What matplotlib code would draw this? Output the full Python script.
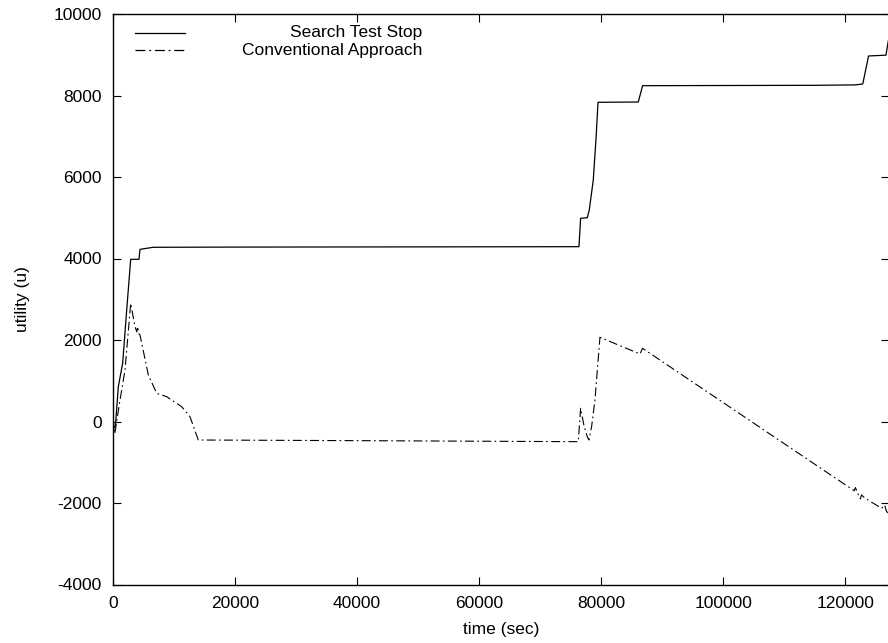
import matplotlib
matplotlib.use("Agg")
import matplotlib.pyplot as plt
from matplotlib.lines import Line2D

plt.rcParams['font.family'] = ['Liberation Sans', 'DejaVu Sans']
plt.rcParams['font.size'] = 12.5
plt.rcParams['axes.unicode_minus'] = False

# Search Test Stop (solid)
sts_t = [0, 400, 870, 1590, 2245, 2900, 4260, 4425, 6600, 20000, 50000,
         76380, 76650, 77740, 78070, 78725, 79200, 79500, 86100, 86810,
         115000, 121600, 122900, 123850, 126700, 127100]
sts_u = [-200, -100, 854, 1435, 2736, 3980, 3980, 4225, 4275, 4280, 4285,
         4290, 4987, 5000, 5190, 5926, 7000, 7833, 7840, 8241,
         8250, 8260, 8282, 8970, 8990, 9350]

# Conventional Approach (dash-dot)
conv_t = [0, 300, 600, 1150, 1970, 2900, 3600, 3900, 4050, 4250, 4425,
          5790, 7160, 8800, 11260, 12620, 13980, 40000, 76270, 76650,
          77200, 77740, 78020, 78450, 79000, 79820, 86380, 86800, 87200,
          121500, 121700, 122000, 122500, 122700, 122980, 124000, 126000,
          126500, 126800, 127100]
conv_u = [100, -300, 0, 528, 1264, 2900, 2327, 2200, 2330, 2150, 2123,
          1141, 692, 609, 363, 118, -454, -470, -495, 324,
          -100, -373, -454, -128, 528, 2066, 1656, 1796, 1756,
          -1700, -1620, -1740, -1900, -1800, -1845, -1950, -2130,
          -2050, -2213, -2243]

fig = plt.figure(figsize=(8.88, 6.43), dpi=100)
ax = fig.add_axes([113 / 888, 58.5 / 643, 776 / 888, 570.5 / 643])

ax.plot(sts_t, sts_u, color='black', lw=0.9, ls='-')
ax.plot(conv_t, conv_u, color='black', lw=0.8, ls=(0, (8, 3, 1.5, 3)))

ax.set_xlim(0, 127200)
ax.set_ylim(-4000, 10000)
ax.set_xticks(range(0, 127000, 20000))
ax.set_yticks(range(-4000, 10001, 2000))
ax.tick_params(direction='in', top=True, right=True, length=6, width=0.8, pad=8)
ax.spines['right'].set_visible(False)
for s in ('left', 'bottom', 'top'):
    ax.spines[s].set_linewidth(1.0)

ax.set_xlabel('time (sec)', labelpad=8)
ax.set_ylabel('utility (u)', labelpad=17)

# gnuplot-style key: line sample on the left, text right-aligned
key = [('Search Test Stop', '-'), ('Conventional Approach', (0, (8, 3, 1.5, 3)))]
for i, (lab, ls) in enumerate(key):
    yk = 1 - (19 + 17 * i) / 570.5
    ax.add_line(Line2D([22 / 776, 72 / 776], [yk, yk], transform=ax.transAxes,
                       color='black', lw=0.9, ls=ls))
    ax.text(309 / 776, yk, lab, transform=ax.transAxes, ha='right', va='center')

fig.savefig('out.png', dpi=100)
